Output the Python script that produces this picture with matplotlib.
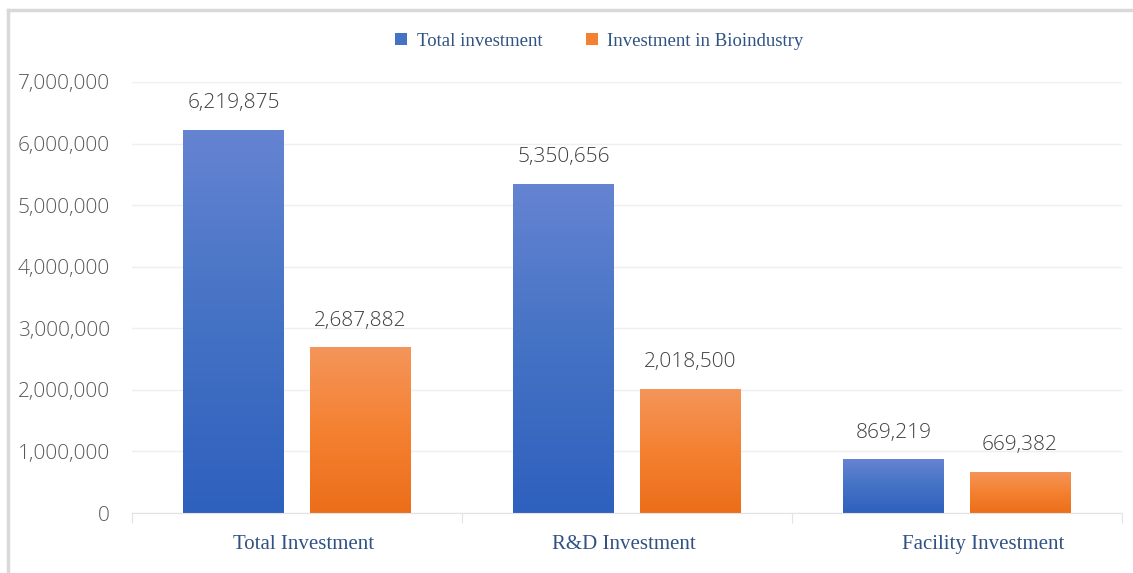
import matplotlib.pyplot as plt
import numpy as np
from matplotlib.lines import Line2D
from matplotlib.ticker import FuncFormatter
from matplotlib.colors import LinearSegmentedColormap

categories = ['Total Investment', 'R&D Investment', 'Facility Investment']
total_inv = [6219875, 5350656, 869219]
bio_inv = [2687882, 2018500, 669382]
series_names = ['Total investment', 'Investment in Bioindustry']

label_color = '#2F5283'
tick_color = '#595959'

blue_cmap = LinearSegmentedColormap.from_list('b', ['#2E60BE', '#4472C4', '#6584D2'])
orange_cmap = LinearSegmentedColormap.from_list('o', ['#EC6E1A', '#F48131', '#F5955A'])

fig = plt.figure(figsize=(11.33, 5.73), dpi=100)
ax = fig.add_axes([0.1165, 0.1047, 0.8735, 0.7523])

x = np.arange(len(categories))
width = 0.305
gap = 0.078
off = (width + gap) / 2

bars1 = ax.bar(x - off, total_inv, width, color='#4472C4', label=series_names[0], zorder=2)
bars2 = ax.bar(x + off, bio_inv, width, color='#F48131', label=series_names[1], zorder=2)

# gradient fill on each bar
grad = np.linspace(0, 1, 256).reshape(-1, 1)
for bars, cmap in ((bars1, blue_cmap), (bars2, orange_cmap)):
    for b in bars:
        bx, by = b.get_x(), b.get_y()
        bw, bh = b.get_width(), b.get_height()
        im = ax.imshow(grad, cmap=cmap, aspect='auto', origin='lower',
                       extent=(bx, bx + bw, by, by + bh), zorder=2.5)
        im.set_clip_path(b)

for bars, vals in ((bars1, total_inv), (bars2, bio_inv)):
    for b, v in zip(bars, vals):
        ax.annotate(f'{v:,}', (b.get_x() + b.get_width() / 2, v),
                    xytext=(0, 12), textcoords='offset points', ha='center', va='bottom',
                    fontsize=15, color='#404040', family='Open Sans', fontweight='light')

ax.set_xlim(-0.5, len(categories) - 0.5)
ax.set_ylim(0, 7000000)
ax.set_yticks(np.arange(0, 7000001, 1000000))
ax.yaxis.set_major_formatter(FuncFormatter(lambda v, p: f'{int(v):,}'))
ax.grid(axis='y', color='#EFEFEF', linewidth=1, zorder=0)
ax.set_axisbelow(True)

for s in ['top', 'right', 'left']:
    ax.spines[s].set_visible(False)
ax.spines['bottom'].set_color('#E3E3E3')

ax.tick_params(axis='y', length=0, pad=16, labelsize=15, labelcolor=tick_color)
for t in ax.get_yticklabels():
    t.set_family('Open Sans')
    t.set_fontweight('light')

# category boundary ticks
ax.set_xticks(np.arange(len(categories) + 1) - 0.5)
ax.set_xticklabels([])
ax.tick_params(axis='x', length=7, color='#E3E3E3')

label_shift = [0.02, -0.01, 0.08]
for i, c in enumerate(categories):
    ax.text(i + label_shift[i], -0.072, c, transform=ax.get_xaxis_transform(),
            ha='center', va='center', fontsize=15, color=label_color, family='Liberation Serif')

leg = fig.legend(handles=[bars1, bars2], labels=series_names, loc='center',
                 bbox_to_anchor=(0.529, 0.928), ncol=2, frameon=False,
                 prop={'family': 'Liberation Serif', 'size': 13.5},
                 handlelength=0.65, handleheight=0.65, columnspacing=2.3, handletextpad=0.5)
for t in leg.get_texts():
    t.set_color(label_color)

# outer border (top and left)
fig.add_artist(Line2D([0.007, 1.0], [0.983, 0.983], color='#D9D9D9', linewidth=2.5,
                      transform=fig.transFigure))
fig.add_artist(Line2D([0.007, 0.007], [0.0, 0.983], color='#D9D9D9', linewidth=2.5,
                      transform=fig.transFigure))

fig.savefig('out.png', dpi=100)
